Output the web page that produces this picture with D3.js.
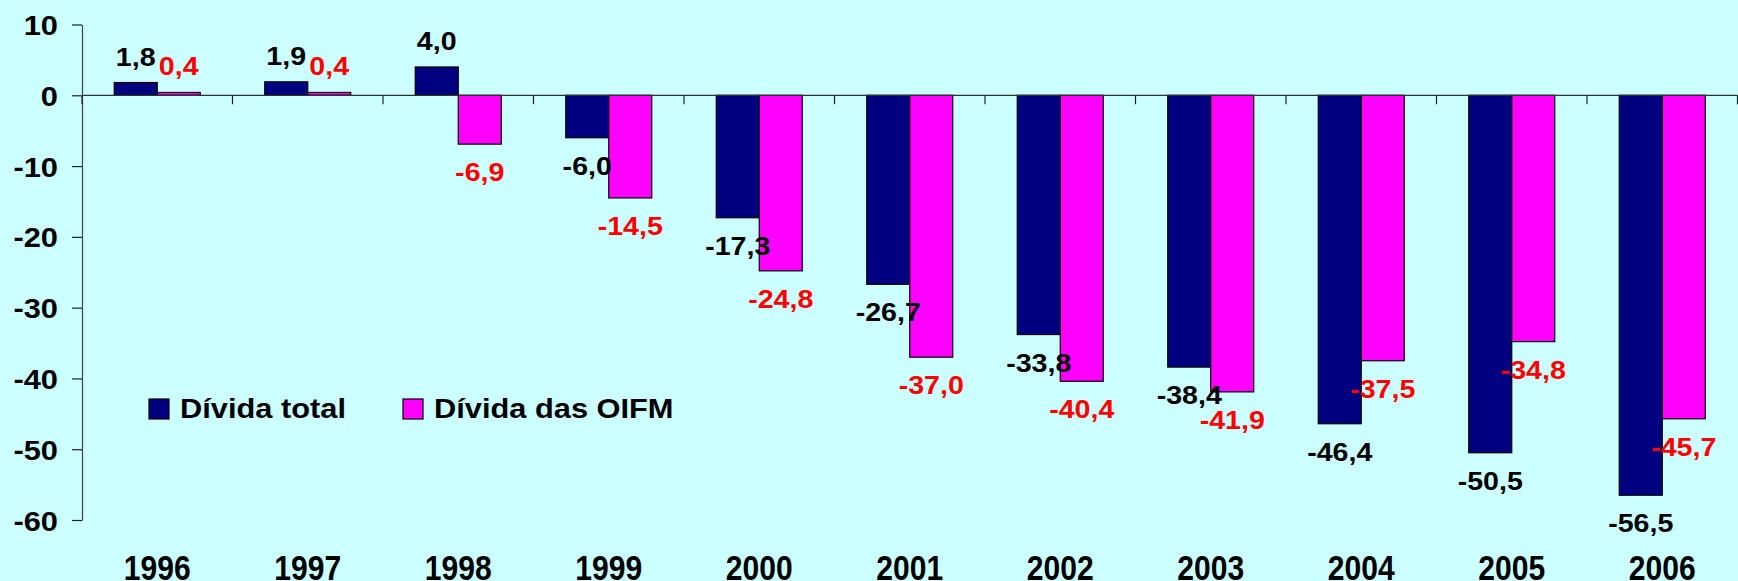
<!DOCTYPE html>
<html>
<head>
<meta charset="utf-8">
<script src="https://cdn.jsdelivr.net/npm/d3@7"></script>
<style>
  html, body { margin: 0; padding: 0; background: #CCFFFF; }
  svg { display: block; }
  text { font-family: "Liberation Sans", Arial, sans-serif; font-weight: bold; }
</style>
</head>
<body>
<svg id="chart" width="1738" height="581"></svg>
<script>
const years = ["1996","1997","1998","1999","2000","2001","2002","2003","2004","2005","2006"];
const dividaTotal = [1.8, 1.9, 4.0, -6.0, -17.3, -26.7, -33.8, -38.4, -46.4, -50.5, -56.5];
const dividaOIFM = [0.4, 0.4, -6.9, -14.5, -24.8, -37.0, -40.4, -41.9, -37.5, -34.8, -45.7];
const yTickValues = [10, 0, -10, -20, -30, -40, -50, -60];
const seriesNames = ["Dívida total", "Dívida das OIFM"];
const seriesColors = ["#000080", "#FF00FF"];
const labelColors = ["#000000", "#FF0000"];

const W = 1738, H = 581;
const svg = d3.select("#chart");
svg.append("rect").attr("width", W).attr("height", H).attr("fill", "#CCFFFF");

const x = d3.scaleBand().domain(years).range([82, 1737.5]).padding(0);
const y = d3.scaleLinear().domain([-60, 10]).range([520, 24.5]);
const bw = x.bandwidth() / 3.5;
const groupOffset = (x.bandwidth() - 2 * bw) / 2;
const xs = d3.scaleBand().domain([0, 1]).range([0, 2 * bw]).padding(0);

const series = [dividaTotal, dividaOIFM];
const fmt = v => v.toFixed(1).replace(".", ",");

// Y axis
const yAxis = d3.axisLeft(y).tickValues(yTickValues).tickSize(10).tickSizeOuter(0).tickFormat(d => String(d));
const gy = svg.append("g").attr("transform", "translate(82,0)").call(yAxis);
gy.select(".domain").attr("stroke", "#404040").attr("stroke-width", 1.2);
gy.selectAll(".tick line").attr("stroke", "#202020").attr("stroke-width", 1.2);
gy.selectAll(".tick text")
  .attr("x", null).attr("dy", null)
  .attr("transform", "translate(-24,10) scale(1.1,1)")
  .attr("font-size", 28).attr("fill", "#000")
  .attr("text-anchor", "end")
  .style("font-family", "'Liberation Sans', Arial, sans-serif").style("font-weight", "bold");

// Bars
series.forEach((vals, si) => {
  svg.append("g").selectAll("rect").data(vals).join("rect")
    .attr("x", (d, i) => x(years[i]) + groupOffset + xs(si))
    .attr("width", xs.bandwidth())
    .attr("y", d => Math.min(y(d), y(0)))
    .attr("height", d => Math.abs(y(d) - y(0)))
    .attr("fill", seriesColors[si])
    .attr("stroke", "#000").attr("stroke-width", 1.2);
});

// X axis (zero line with category boundary ticks)
const x0 = y(0);
svg.append("line").attr("x1", x.range()[0]).attr("x2", x.range()[1])
  .attr("y1", x0).attr("y2", x0).attr("stroke", "#303030").attr("stroke-width", 1.2);
svg.append("g").selectAll("line").data(d3.range(0, years.length + 1)).join("line")
  .attr("x1", i => x.range()[0] + i * x.step()).attr("x2", i => x.range()[0] + i * x.step())
  .attr("y1", x0).attr("y2", x0 + 9)
  .attr("stroke", "#202020").attr("stroke-width", 1.2);

// Category labels
svg.append("g").selectAll("text").data(years).join("text")
  .attr("transform", d => `translate(${x(d) + x.bandwidth() / 2},580) scale(0.86,1)`)
  .attr("text-anchor", "middle").attr("font-size", 35).attr("fill", "#000")
  .text(d => d);

// Data labels
series.forEach((vals, si) => {
  svg.append("g").selectAll("text").data(vals).join("text")
    .attr("transform", (d, i) => {
      const cx = x(years[i]) + groupOffset + xs(si) + xs.bandwidth() / 2;
      const ty = d >= 0 ? y(d) - 17 : y(d) + 37;
      return `translate(${cx},${ty}) scale(1.1,1)`;
    })
    .attr("text-anchor", "middle").attr("font-size", 26).attr("fill", labelColors[si])
    .text(d => fmt(d));
});

// Legend
const legendPos = [[149, 399], [403, 399]];
const lg = svg.append("g");
seriesNames.forEach((name, si) => {
  const [lx, ly] = legendPos[si];
  lg.append("rect").attr("x", lx).attr("y", ly).attr("width", 20).attr("height", 20)
    .attr("fill", seriesColors[si]).attr("stroke", "#000").attr("stroke-width", 1.2);
  lg.append("text").attr("transform", `translate(${lx + 31},${ly + 19}) scale(1.1,1)`)
    .attr("font-size", 28).attr("fill", "#000").text(name);
});
</script>
</body>
</html>
